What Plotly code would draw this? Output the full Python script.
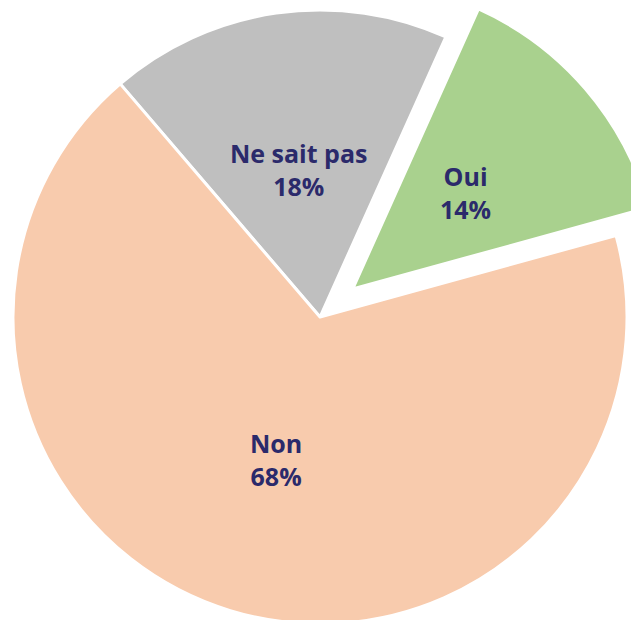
import math
import plotly.graph_objects as go

labels = ["Ne sait pas", "Oui", "Non"]
values = [18, 14, 68]
colors = ["#BFBFBF", "#A9D18E", "#F8CBAD"]
pulls = [0, 0.14, 0]

ROTATION = -40.6
W, H = 700, 700

fig = go.Figure(go.Pie(
    labels=labels,
    values=values,
    sort=False,
    direction="clockwise",
    rotation=ROTATION,
    pull=pulls,
    marker=dict(colors=colors, line=dict(color="white", width=3)),
    textinfo="none",
    showlegend=False,
    hoverinfo="skip",
))

# label positions derived from the slice geometry (plotly: r = min(w,h)/2/(1+maxpull))
r_px = min(W, H) / 2 / (1 + max(pulls))
total = sum(values)
cum = 0
annotations = []
font = dict(family="Open Sans", size=25, color="#2B2A6B")
for lab, v, p in zip(labels, values, pulls):
    theta = math.radians(ROTATION + (cum + v / 2) / total * 360)
    cum += v
    dist = (0.485 + p) * r_px
    ax = 0.5 + dist * math.sin(theta) / W
    ay = 0.5 + dist * math.cos(theta) / H
    annotations.append(dict(
        x=ax, y=ay, xref="paper", yref="paper",
        xanchor="center", yanchor="middle",
        text=f"<b>{lab}</b><br><b>{round(100 * v / total)}%</b>",
        showarrow=False, align="center", font=font,
    ))

fig.update_layout(
    width=W, height=H,
    margin=dict(l=0, r=0, t=0, b=0),
    paper_bgcolor="white",
    plot_bgcolor="white",
    annotations=annotations,
)

post = (
    "var d=document.getElementById('{plot_id}');"
    "document.body.style.margin='0';"
    "document.body.style.overflow='hidden';"
    "document.documentElement.style.overflow='hidden';"
    "d.style.position='absolute';"
    "d.style.left='-30px';"
    "d.style.top='-33px';"
)
fig.write_html("out.html", post_script=post)
